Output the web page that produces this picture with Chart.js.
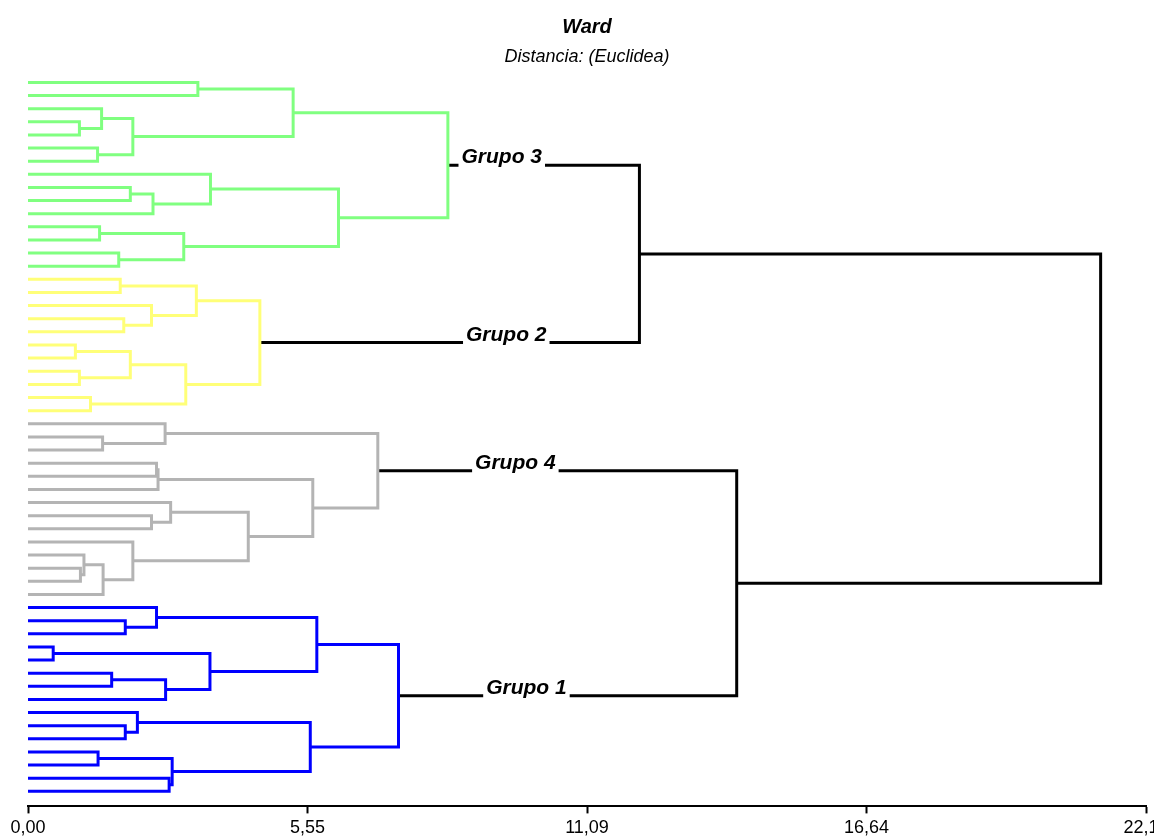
<!DOCTYPE html>
<html>
<head>
    <title>Ward - Dendrograma</title>
    <meta charset="utf-8" />
    <script src="https://cdn.jsdelivr.net/npm/chart.js"></script>
    <style>
        body { margin: 0; background: #fff; }
        #chart { display: block; }
    </style>
</head>
<body>
    <canvas id="chart" width="1154" height="838"></canvas>
    <script>
        // Leaves per group, top to bottom
        var groupNames = ['Grupo 3', 'Grupo 2', 'Grupo 4', 'Grupo 1'];
        var leafCounts = [15, 11, 14, 15];

        // Merges inside each group: [left, right, distance]
        // ids below the leaf count are leaves, the rest are earlier merges in order
        var linkGrupo3 = [
            [3, 4, 1.02], [2, 15, 1.46], [5, 6, 1.38], [16, 17, 2.08],
            [0, 1, 3.37], [19, 18, 5.26], [8, 9, 2.03], [21, 10, 2.48],
            [7, 22, 3.62], [11, 12, 1.42], [13, 14, 1.80], [24, 25, 3.09],
            [23, 26, 6.16], [20, 27, 8.33]
        ];
        var linkGrupo2 = [
            [0, 1, 1.83], [3, 4, 1.90], [2, 12, 2.45], [11, 13, 3.34],
            [5, 6, 0.94], [7, 8, 1.02], [15, 16, 2.03], [9, 10, 1.24],
            [17, 18, 3.13], [14, 19, 4.60]
        ];
        var linkGrupo4 = [
            [1, 2, 1.48], [0, 14, 2.72], [3, 4, 2.55], [16, 5, 2.58],
            [7, 8, 2.45], [6, 18, 2.83], [11, 12, 1.04], [10, 20, 1.11],
            [21, 13, 1.49], [9, 22, 2.08], [19, 23, 4.37], [17, 24, 5.65],
            [15, 25, 6.94]
        ];
        var linkGrupo1 = [
            [1, 2, 1.93], [0, 15, 2.55], [3, 4, 0.50], [5, 6, 1.66],
            [18, 7, 2.73], [17, 19, 3.61], [16, 20, 5.73], [9, 10, 1.93],
            [8, 22, 2.17], [11, 12, 1.39], [13, 14, 2.80], [24, 25, 2.86],
            [23, 26, 5.60], [21, 27, 7.35]
        ];
        // Merges between the group roots (0..3), then 4 and 5 are the new clusters
        var linkTop = [[0, 1, 12.13], [2, 3, 14.06], [4, 5, 21.28]];

        // where each group label starts, in distance units
        var labelX = [8.6, 8.69, 8.87, 9.09];

        var tickValues = [0, 5.545, 11.09, 16.635, 22.18];
        var tickLabels = ['0,00', '5,55', '11,09', '16,64', '22,18'];

        var groupColors = ['#80ff80', '#ffff78', '#b4b4b4', '#0000ff'];
        var fontFamily = '"Liberation Sans", Arial, sans-serif';

        // walk a linkage list and return one 4-point path per merge
        function buildTree(link, nodes) {
            var paths = [];
            link.forEach(function (m) {
                var a = nodes[m[0]], b = nodes[m[1]], h = m[2];
                paths.push([
                    { x: a.h, y: a.y }, { x: h, y: a.y },
                    { x: h, y: b.y }, { x: b.h, y: b.y }
                ]);
                nodes.push({ y: (a.y + b.y) / 2, h: h });
            });
            return { paths: paths, root: nodes[nodes.length - 1] };
        }

        var groupLinks = [linkGrupo3, linkGrupo2, linkGrupo4, linkGrupo1];
        var datasets = [];
        var roots = [];
        var offset = 0;
        groupLinks.forEach(function (link, g) {
            var leaves = [];
            for (var i = 0; i < leafCounts[g]; i++) leaves.push({ y: offset + i, h: 0 });
            offset += leafCounts[g];
            var tree = buildTree(link, leaves);
            roots.push(tree.root);
            tree.paths.forEach(function (p) {
                datasets.push({ data: p, borderColor: groupColors[g] });
            });
        });
        var topTree = buildTree(linkTop, roots.slice());
        topTree.paths.forEach(function (p) {
            datasets.push({ data: p, borderColor: '#000' });
        });

        // group names sit on the black branch, over a white box
        var groupLabelPlugin = {
            id: 'groupLabels',
            afterDatasetsDraw: function (chart) {
                var c = chart.ctx;
                var xs = chart.scales.x, ys = chart.scales.y;
                c.save();
                c.font = 'italic bold 21px ' + fontFamily;
                c.textBaseline = 'alphabetic';
                roots.forEach(function (r, g) {
                    var x = xs.getPixelForValue(labelX[g]);
                    var y = ys.getPixelForValue(r.y);
                    var w = c.measureText(groupNames[g]).width;
                    c.fillStyle = '#fff';
                    c.fillRect(x - 3, y - 19, w + 6, 22);
                    c.fillStyle = '#000';
                    c.fillText(groupNames[g], x, y - 2);
                });
                c.restore();
            }
        };

        var ctx = document.getElementById('chart').getContext('2d');
        var chart = new Chart(ctx, {
            type: 'scatter',
            data: { datasets: datasets },
            plugins: [groupLabelPlugin],
            options: {
                responsive: false,
                animation: false,
                devicePixelRatio: 1,
                datasets: {
                    scatter: {
                        showLine: true,
                        borderWidth: 3,
                        pointRadius: 0,
                        pointHoverRadius: 0,
                        borderJoinStyle: 'miter',
                        borderCapStyle: 'butt'
                    }
                },
                layout: { padding: { left: 28, right: 8, top: 0, bottom: -5 } },
                plugins: {
                    legend: { display: false },
                    tooltip: { enabled: false },
                    title: {
                        display: true,
                        text: 'Ward',
                        color: '#000',
                        font: { family: fontFamily, size: 20, style: 'italic', weight: 'bold', lineHeight: 1.2 },
                        padding: { top: 15, bottom: 2 }
                    },
                    subtitle: {
                        display: true,
                        text: 'Distancia: (Euclidea)',
                        color: '#000',
                        font: { family: fontFamily, size: 18, style: 'italic', lineHeight: 1.2 },
                        padding: { top: 5, bottom: 2 }
                    }
                },
                scales: {
                    x: {
                        type: 'linear',
                        position: 'bottom',
                        min: 0,
                        max: 22.18,
                        afterBuildTicks: function (scale) {
                            scale.ticks = tickValues.map(function (v) { return { value: v }; });
                        },
                        afterFit: function (scale) {
                            scale.paddingLeft = 0;
                            scale.paddingRight = 0;
                        },
                        border: { display: true, color: '#000', width: 2 },
                        grid: {
                            display: true,
                            drawOnChartArea: false,
                            drawTicks: true,
                            tickLength: 7,
                            tickColor: '#000',
                            tickWidth: 2
                        },
                        ticks: {
                            color: '#000',
                            padding: 4,
                            maxRotation: 0,
                            autoSkip: false,
                            font: { family: fontFamily, size: 18 },
                            callback: function (value, index) { return tickLabels[index]; }
                        }
                    },
                    y: {
                        type: 'linear',
                        display: false,
                        reverse: true,
                        min: -0.98,
                        max: 55.15
                    }
                }
            }
        });
    </script>
</body>
</html>
